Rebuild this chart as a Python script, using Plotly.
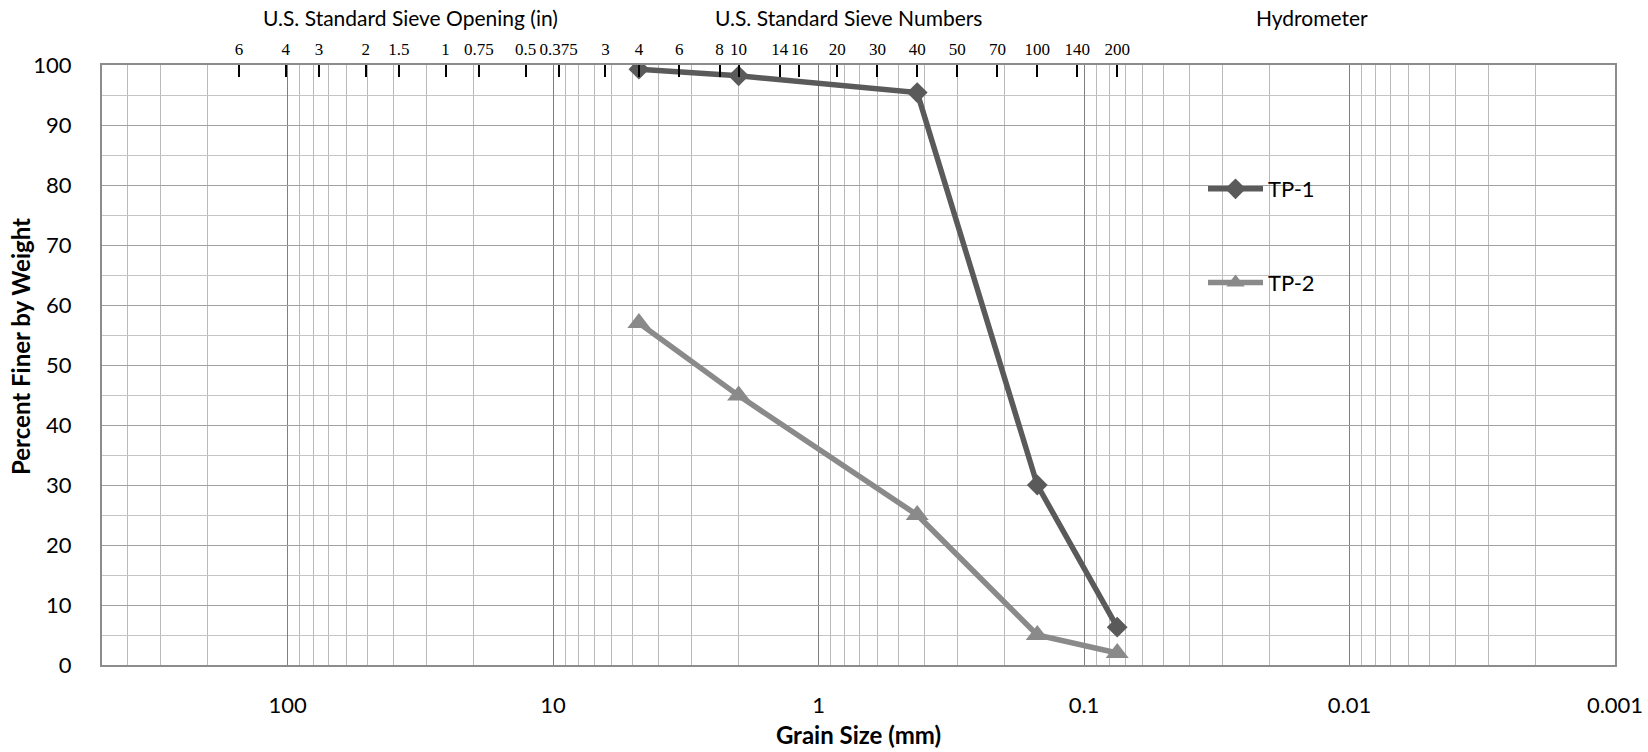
import plotly.graph_objects as go
import numpy as np

# top axis: sieve openings (in) and sieve numbers, with their size in mm
opening_labels = ['6', '4', '3', '2', '1.5', '1', '0.75', '0.5', '0.375']
opening_mm = [152.4, 101.6, 76.2, 50.8, 38.1, 25.4, 19.05, 12.7, 9.525]
number_labels = ['3', '4', '6', '8', '10', '14', '16', '20', '30', '40',
                 '50', '70', '100', '140', '200']
number_mm = [6.35, 4.75, 3.35, 2.36, 2.0, 1.4, 1.18, 0.85, 0.6, 0.425,
             0.3, 0.212, 0.15, 0.106, 0.075]

# bottom axis
grain_ticks = [100, 10, 1, 0.1, 0.01, 0.001]
grain_tick_text = ['100', '10', '1', '0.1', '0.01', '0.001']
finer_ticks = list(range(0, 101, 10))

# test pits
tp1_size = [4.75, 2.0, 0.425, 0.15, 0.075]
tp1_finer = [99.3, 98.2, 95.4, 30.0, 6.3]
tp2_size = [4.75, 2.0, 0.425, 0.15, 0.075]
tp2_finer = [57.0, 44.9, 25.0, 5.0, 2.0]

W, H = 1648, 752
L, R, T, B = 102, 33, 65, 87
pw, ph = W - L - R, H - T - B
px = lambda x: (x - L) / pw
py = lambda y: (H - B - y) / ph

FONT = 'Lato'
xrange = [np.log10(500), -3]

fig = go.Figure()

fig.add_trace(go.Scatter(x=tp1_size, y=tp1_finer, name='TP-1', mode='lines+markers',
                         line=dict(color='#5a5a5a', width=5.5),
                         marker=dict(symbol='diamond', size=16, color='#5a5a5a'),
                         legendgroup='a'))
fig.add_trace(go.Scatter(x=tp2_size, y=tp2_finer, name='TP-2', mode='lines+markers',
                         line=dict(color='#8a8a8a', width=5.5),
                         marker=dict(symbol='triangle-up', size=20, color='#8a8a8a'),
                         legendgroup='b'))
# keeps the top sieve axis alive
fig.add_trace(go.Scatter(x=opening_mm + number_mm, y=[None] * (len(opening_mm) + len(number_mm)),
                         xaxis='x2', showlegend=False, hoverinfo='skip'))

fig.update_layout(
    width=W, height=H,
    margin=dict(l=L, r=R, t=T, b=B, autoexpand=False),
    paper_bgcolor='white', plot_bgcolor='white',
    font=dict(family=FONT, size=22, color='black'),
    xaxis=dict(
        type='log', range=xrange, autorange=False, automargin=False,
        tickvals=grain_ticks, ticktext=grain_tick_text,
        showgrid=True, gridcolor='#7f7f7f', gridwidth=1,
        minor=dict(dtick='D1', showgrid=True, gridcolor='#bababa', gridwidth=1.2),
        showline=True, mirror=True, linecolor='#8c8c8c', linewidth=2,
        ticks='', ticklabelstandoff=20, zeroline=False,
        title=dict(text='<b>Grain Size (mm)</b>', font=dict(size=24), standoff=10),
    ),
    xaxis2=dict(
        type='log', range=xrange, autorange=False, overlaying='x', side='top', anchor='y',
        automargin=False,
        tickvals=opening_mm + number_mm, ticktext=opening_labels + number_labels,
        ticks='inside', ticklen=12, tickwidth=2, tickcolor='black', tickangle=0,
        tickfont=dict(family='Liberation Serif', size=17, color='black'),
        showgrid=False, showline=False, zeroline=False, ticklabelstandoff=6,
    ),
    yaxis=dict(
        range=[0, 100], autorange=False, tickvals=finer_ticks, automargin=False,
        showgrid=True, gridcolor='#a0a0a0', gridwidth=1.2,
        minor=dict(dtick=5, tick0=0, showgrid=True, gridcolor='#c4c4c4', gridwidth=1.2),
        showline=True, mirror=True, linecolor='#8c8c8c', linewidth=2,
        ticks='', ticklabelstandoff=24, zeroline=False,
    ),
    legend=dict(x=px(1203), y=py(168), xanchor='left', yanchor='top',
                bgcolor='rgba(0,0,0,0)', font=dict(size=22), tracegroupgap=62,
                itemwidth=55),
    showlegend=True,
)

annotations = [
    dict(text='U.S. Standard Sieve Opening (in)', x=px(410), y=py(18)),
    dict(text='U.S. Standard Sieve Numbers', x=px(848), y=py(18)),
    dict(text='Hydrometer', x=px(1312), y=py(18)),
]
for a in annotations:
    fig.add_annotation(xref='paper', yref='paper', xanchor='center', yanchor='middle',
                       showarrow=False, font=dict(size=21), **a)
fig.add_annotation(text='<b>Percent Finer by Weight</b>', xref='paper', yref='paper',
                   x=px(20), y=py(347), textangle=-90, showarrow=False,
                   xanchor='center', yanchor='middle', font=dict(size=24))

fig.write_html('out.html', config={'displayModeBar': False},
               post_script="document.body.style.margin='0';")
